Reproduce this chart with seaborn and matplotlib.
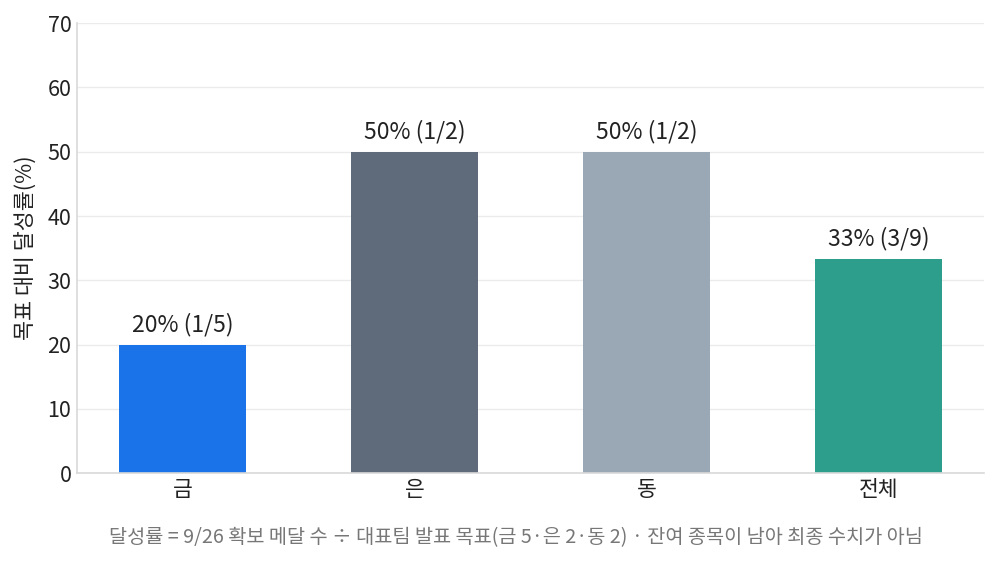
import matplotlib
matplotlib.use("Agg")
import matplotlib.pyplot as plt
import pandas as pd
import seaborn as sns

# 메달 목표 대비 달성률
categories = ["금", "은", "동", "전체"]
achieved = [1, 1, 1, 3]
targets = [5, 2, 2, 9]
rates = [a / t * 100 for a, t in zip(achieved, targets)]
bar_colors = ["#1a73e8", "#5f6b7b", "#9aa8b5", "#2e9e8c"]
caption = "달성률 = 9/26 확보 메달 수 ÷ 대표팀 발표 목표(금 5·은 2·동 2) · 잔여 종목이 남아 최종 수치가 아님"

sns.set_theme(style="whitegrid")
plt.rcParams['font.family'] = ['Noto Sans CJK KR', 'DejaVu Sans']

df = pd.DataFrame({"category": categories, "rate": rates})

fig = plt.figure(figsize=(9.99, 5.64), dpi=100)
ax = fig.add_axes([0.077, 0.161, 0.908, 0.798])

sns.barplot(data=df, x="category", y="rate", hue="category", palette=bar_colors,
            width=0.55, legend=False, ax=ax, saturation=1, linewidth=0)

for i, (r, a, t) in enumerate(zip(rates, achieved, targets)):
    ax.text(i, r + 1.3, f"{r:.0f}% ({a}/{t})", ha="center", va="bottom",
            fontsize=16.5, color="#222222")

ax.set_ylim(0, 70)
ax.set_xlim(-0.455, 3.455)
ax.set_yticks(range(0, 71, 10))
ax.set_xlabel("")
ax.set_ylabel("목표 대비 달성률(%)", fontsize=15.7, color="#222222", labelpad=8)
ax.tick_params(axis="both", length=0, labelsize=15.5, colors="#222222", pad=4)
ax.grid(axis="y", color="#ebebeb", linewidth=1)
ax.grid(axis="x", visible=False)
for side in ["top", "right"]:
    ax.spines[side].set_visible(False)
for side in ["left", "bottom"]:
    ax.spines[side].set_color("#d9d9d9")
    ax.spines[side].set_linewidth(1.2)

fig.text(0.516, 0.046, caption, ha="center", va="center", fontsize=14.2, color="#777777")

plt.savefig("out.png", dpi=100)
